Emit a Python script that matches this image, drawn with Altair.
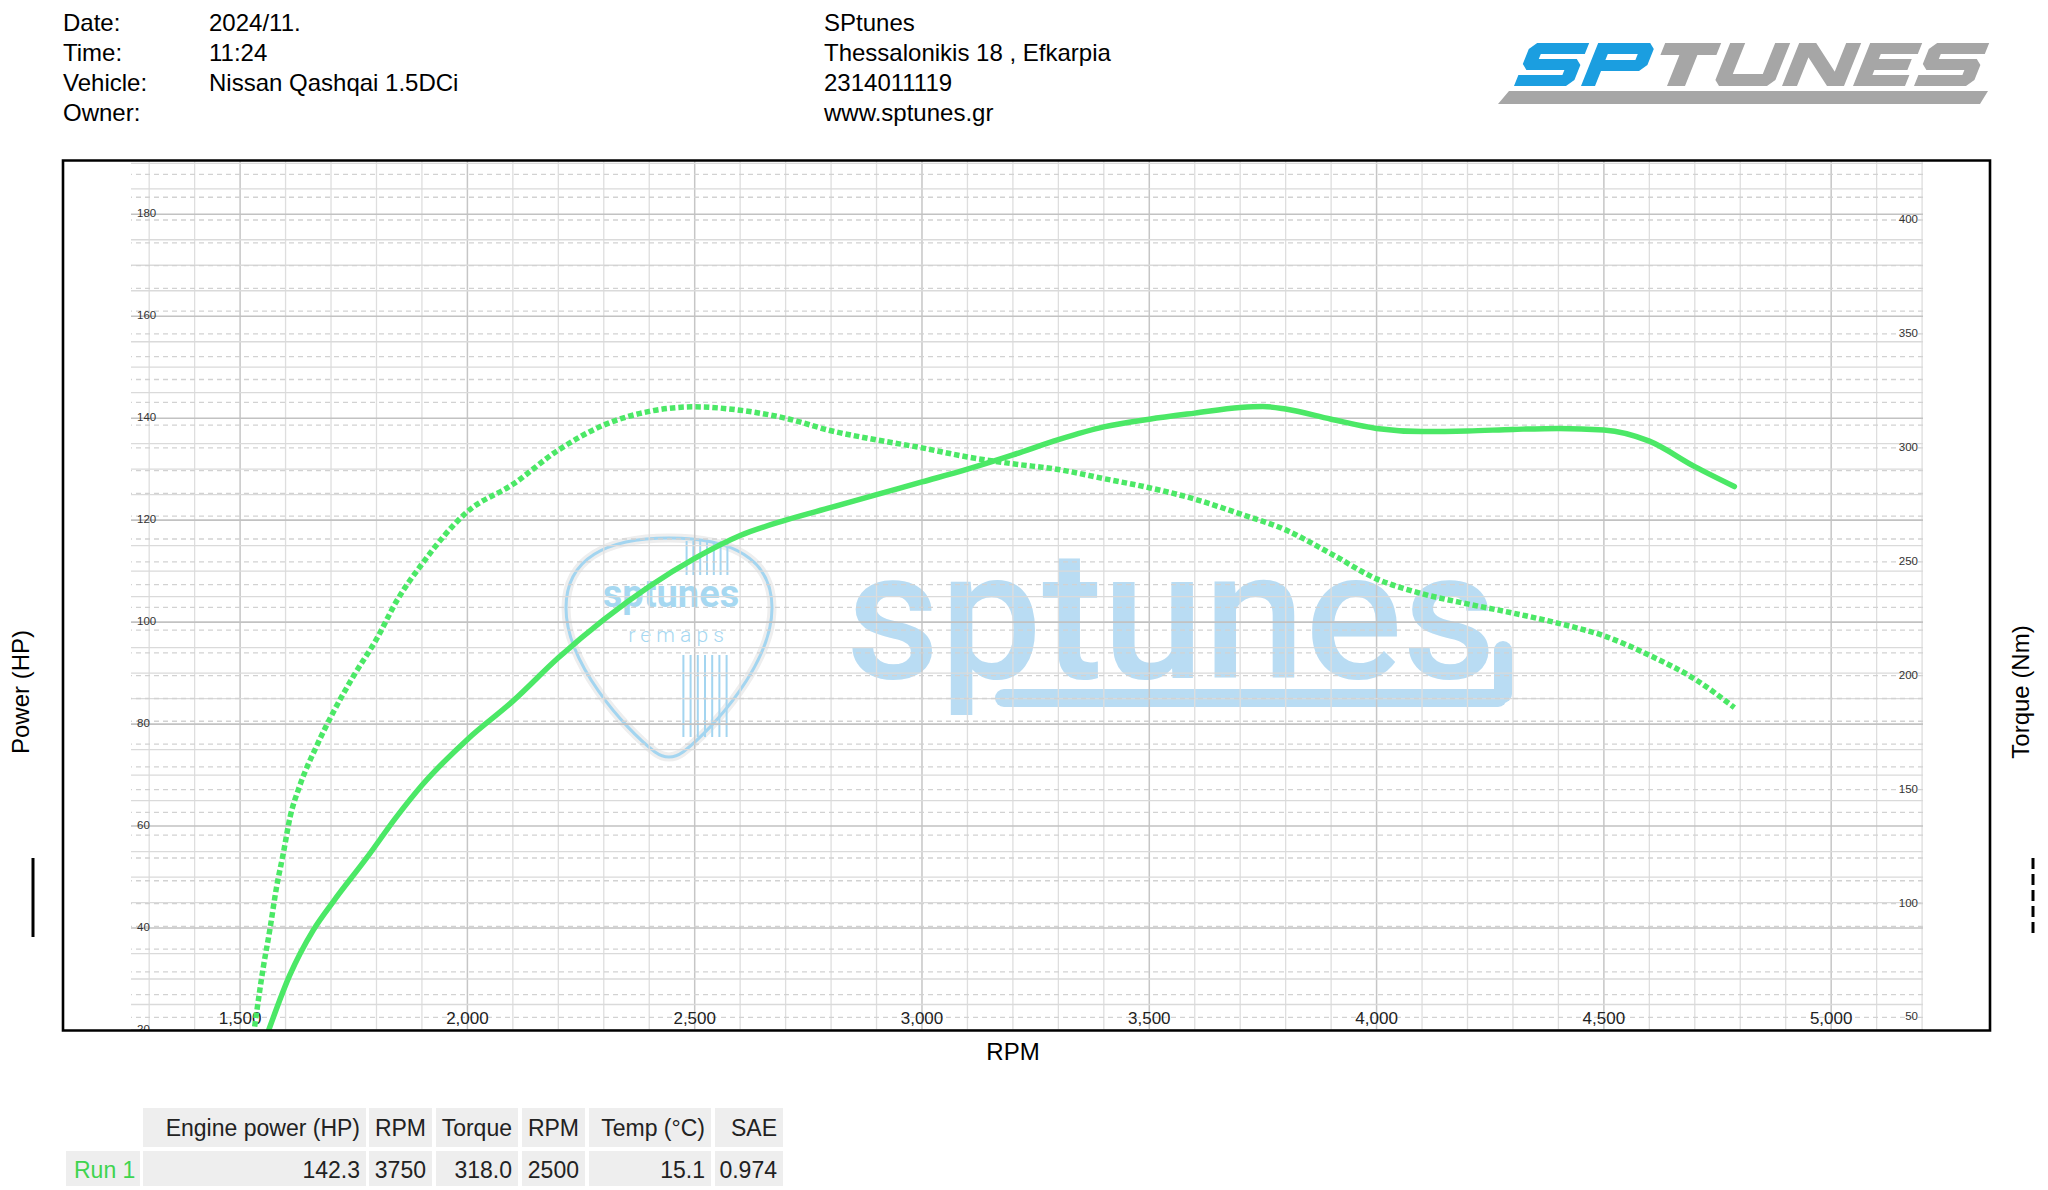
import altair as alt
import pandas as pd

# ---------------- data ----------------
POWER_RPM = [1563, 1609, 1661, 1705, 1778, 1844, 1900, 2000, 2100, 2200, 2300, 2400,
             2500, 2600, 2700, 2800, 2900, 3000, 3100, 3200, 3300, 3400, 3500, 3600,
             3700, 3750, 3800, 3900, 4000, 4100, 4200, 4300, 4400, 4500, 4600, 4700, 4787]
POWER_HP = [20.0, 30.7, 39.6, 45.2, 53.7, 61.8, 68.0, 77.0, 84.5, 93.0, 100.5, 107.0,
            112.5, 117.0, 120.0, 122.5, 125.0, 127.5, 130.0, 132.8, 135.8, 138.3, 139.8, 141.0,
            142.1, 142.3, 141.8, 139.8, 138.0, 137.4, 137.5, 137.8, 138.0, 137.7, 135.5, 130.5, 126.6]

TORQUE_RPM = [1532, 1551, 1565, 1580, 1595, 1610, 1630, 1668, 1705, 1750, 1800, 1845, 1900,
              2000, 2100, 2200, 2300, 2400, 2500, 2600, 2700, 2800, 2900, 3000, 3100, 3200,
              3300, 3400, 3500, 3600, 3700, 3800, 3900, 4000, 4100, 4200, 4300, 4400, 4500,
              4600, 4700, 4787]
TORQUE_NM = [46, 72, 88, 107, 122, 138, 151, 169, 184, 200, 216, 233, 249,
             272, 284, 299, 310, 316, 318, 316.5, 313, 307.5, 303.5, 300, 296, 293,
             290.5, 286.5, 282.5, 277.5, 271, 264, 253.5, 242.5, 236, 231.5, 227.5, 223, 217.5,
             209, 198.5, 186]

RPM_TICKS = [1500, 2000, 2500, 3000, 3500, 4000, 4500, 5000]
HP_TICKS = [20, 40, 60, 80, 100, 120, 140, 160, 180]
NM_TICKS = [50, 100, 150, 200, 250, 300, 350, 400]

HEADER_KEYS = ["Date:", "Time:", "Vehicle:", "Owner:"]
HEADER_VALUES = ["2024/11.", "11:24", "Nissan Qashqai 1.5DCi", ""]
SHOP_LINES = ["SPtunes", "Thessalonikis 18 , Efkarpia", "2314011119", "www.sptunes.gr"]

TABLE_COLUMNS = ["Engine power (HP)", "RPM", "Torque", "RPM", "Temp (°C)", "SAE"]
TABLE_VALUES = ["142.3", "3750", "318.0", "2500", "15.1", "0.974"]
RUN_NAME = "Run 1"

X_TITLE = "RPM"
LEFT_TITLE = "Power (HP)"
RIGHT_TITLE = "Torque (Nm)"
WATERMARK = "sptunes"
BADGE_TEXT = "sptunes"
BADGE_SUB = "r  e  m  a  p  s"
LOGO = "SPTUNES"

# ---------------- layout (image pixels) ----------------
X0, Y0 = 131, 161          # top-left of plot area in the page
W, H = 1792, 869
TOTAL_W, TOTAL_H = 2030, 1178
PAD_L, PAD_T = X0 - 8, Y0 - 8


def vx(x):
    return x - X0


def vy(y):
    return y - Y0


GREEN = "#4be866"
FONT = "Liberation Sans"
WM_BLUE = "#b9dcf3"
BADGE_BLUE = "#a6d8f1"

rpm_scale = alt.Scale(domain=[1260, 5202], nice=False, zero=False)
hp_scale = alt.Scale(domain=[20, 190.45], nice=False, zero=False)
nm_scale = alt.Scale(domain=[44.5, 425.9], nice=False, zero=False)

one = pd.DataFrame({"k": [0]})


def label(text, x, y, size, font=FONT, **kw):
    return alt.Chart(one).mark_text(text=text, font=font, fontSize=size, **kw).encode(
        x=alt.value(vx(x)), y=alt.value(vy(y)))


def pathmark(path, x, y, **kw):
    return alt.Chart(one).mark_point(shape=path, size=4, opacity=1, **kw).encode(
        x=alt.value(vx(x)), y=alt.value(vy(y)))


layers = []

# ---------------- watermark ----------------
PICK_PATH = ("M 0 -110 C 62 -110 103 -90 103 -40 C 103 15 45 80 14 104 "
             "Q 0 114 -14 104 C -45 80 -103 15 -103 -40 C -103 -90 -62 -110 0 -110 Z")
layers.append(pathmark(PICK_PATH, 669, 648, filled=False, stroke="#eeeeee", strokeWidth=9))
layers.append(pathmark(PICK_PATH, 669, 648, filled=False, stroke="#a3d5f0", strokeWidth=3))


def stripes(n, dx, half_h):
    parts = []
    for i in range(n):
        xx = (i - (n - 1) / 2) * dx
        parts.append(f"M {xx:.1f} {-half_h} L {xx:.1f} {half_h}")
    return " ".join(parts)


layers.append(pathmark(stripes(7, 6.8, 17), 707, 558, filled=False, stroke="#a3d5f0", strokeWidth=2))
layers.append(pathmark(stripes(7, 7.2, 41), 705, 696, filled=False, stroke="#a3d5f0", strokeWidth=2))
layers.append(label(BADGE_TEXT, 671, 607, 38, font="Roboto", fontWeight="bold", color=BADGE_BLUE,
                    align="center", baseline="alphabetic"))
layers.append(label(BADGE_SUB, 676, 642, 21, font="Roboto", fontWeight=300, color=BADGE_BLUE,
                    align="center", baseline="alphabetic"))

layers.append(label(WATERMARK, 846, 678, 182, font="Roboto", fontWeight=500, color=WM_BLUE,
                    align="left", baseline="alphabetic"))
layers.append(alt.Chart(one).mark_rule(color=WM_BLUE, strokeWidth=18, strokeCap="round").encode(
    x=alt.value(vx(1004)), x2=alt.value(vx(1498)), y=alt.value(vy(698))))
layers.append(alt.Chart(one).mark_rule(color=WM_BLUE, strokeWidth=18, strokeCap="round").encode(
    x=alt.value(vx(1503)), y=alt.value(vy(650)), y2=alt.value(vy(694))))

# ---------------- grid ----------------
rpm_minor = pd.DataFrame({"rpm": [r for r in range(1300, 5201, 100) if r % 500]})
rpm_major = pd.DataFrame({"rpm": [r for r in range(1300, 5201, 100) if r % 500 == 0]})
hp_minor = pd.DataFrame({"hp": [h for h in range(20, 191, 5) if h % 20]})
hp_major = pd.DataFrame({"hp": [h for h in range(20, 191, 5) if h % 20 == 0]})
nm_grid = pd.DataFrame({"nm": list(range(50, 421, 10))})

layers.append(alt.Chart(rpm_minor).mark_rule(color="#dedede", strokeWidth=1.3).encode(
    x=alt.X("rpm:Q", scale=rpm_scale, axis=None)))
layers.append(alt.Chart(rpm_major).mark_rule(color="#c6c6c6", strokeWidth=1.5).encode(
    x=alt.X("rpm:Q", scale=rpm_scale, axis=None)))
layers.append(alt.Chart(hp_minor).mark_rule(color="#dadada", strokeWidth=1.3).encode(
    y=alt.Y("hp:Q", scale=hp_scale, axis=None)))
layers.append(alt.Chart(hp_major).mark_rule(color="#c2c2c2", strokeWidth=1.6).encode(
    y=alt.Y("hp:Q", scale=hp_scale, axis=None)))
layers.append(alt.Chart(nm_grid).mark_rule(color="#d2d2d2", strokeWidth=1.3, strokeDash=[5, 4]).encode(
    y=alt.Y("nm:Q", scale=nm_scale, axis=None)))

# ---------------- tick labels ----------------
layers.append(alt.Chart(pd.DataFrame({"rpm": RPM_TICKS})).mark_text(
    font=FONT, fontSize=17, color="#222222", baseline="middle", align="center").encode(
    x=alt.X("rpm:Q", scale=rpm_scale, axis=None), y=alt.value(vy(1019)),
    text=alt.Text("rpm:Q", format=",")))
layers.append(alt.Chart(pd.DataFrame({"hp": HP_TICKS})).mark_text(
    font=FONT, fontSize=11.5, color="#333333", baseline="middle", align="left", clip=True).encode(
    x=alt.value(vx(137)), y=alt.Y("hp:Q", scale=hp_scale, axis=None), text=alt.Text("hp:Q", format="d")))
layers.append(alt.Chart(pd.DataFrame({"nm": NM_TICKS})).mark_text(
    font=FONT, fontSize=11.5, color="#333333", baseline="middle", align="right", clip=True).encode(
    x=alt.value(vx(1918)), y=alt.Y("nm:Q", scale=nm_scale, axis=None), text=alt.Text("nm:Q", format="d")))

# ---------------- curves ----------------
layers.append(alt.Chart(pd.DataFrame({"rpm": TORQUE_RPM, "nm": TORQUE_NM})).mark_line(
    color=GREEN, strokeWidth=5.5, strokeDash=[5.5, 3], interpolate="monotone", clip=True).encode(
    x=alt.X("rpm:Q", scale=rpm_scale, axis=None), y=alt.Y("nm:Q", scale=nm_scale, axis=None)))
layers.append(alt.Chart(pd.DataFrame({"rpm": POWER_RPM, "hp": POWER_HP})).mark_line(
    color=GREEN, strokeWidth=5.5, interpolate="monotone", clip=True, strokeCap="round").encode(
    x=alt.X("rpm:Q", scale=rpm_scale, axis=None), y=alt.Y("hp:Q", scale=hp_scale, axis=None)))

# ---------------- frame, titles, legend marks ----------------
layers.append(alt.Chart(one).mark_rect(fill="transparent", stroke="black", strokeWidth=2.6).encode(
    x=alt.value(vx(63)), x2=alt.value(vx(1990)), y=alt.value(vy(160.5)), y2=alt.value(vy(1030.5))))
layers.append(label(X_TITLE, 1013, 1053, 24, color="black", align="center", baseline="middle"))
layers.append(label(LEFT_TITLE, 22, 692, 24, color="black", align="center", baseline="middle", angle=270))
layers.append(label(RIGHT_TITLE, 2022, 692, 24, color="black", align="center", baseline="middle", angle=270))
layers.append(alt.Chart(one).mark_rule(color="black", strokeWidth=3).encode(
    x=alt.value(vx(33)), y=alt.value(vy(858)), y2=alt.value(vy(937))))
layers.append(alt.Chart(one).mark_rule(color="black", strokeWidth=3, strokeDash=[11, 5]).encode(
    x=alt.value(vx(2033)), y=alt.value(vy(858)), y2=alt.value(vy(937))))

# ---------------- header ----------------
layers.append(label(HEADER_KEYS, 63, 30.8, 24, color="black", align="left", baseline="alphabetic", lineHeight=30))
layers.append(label(HEADER_VALUES, 209, 30.8, 24, color="black", align="left", baseline="alphabetic", lineHeight=30))
layers.append(label(SHOP_LINES, 824, 30.8, 24, color="black", align="left", baseline="alphabetic", lineHeight=30))

# ---------------- logo (drawn letter shapes) ----------------
K = 0.4
LH = 43


def letter_polys(ch, w):
    if ch == "S":
        return [[(6, 0), (w, 0), (w, 11), (14, 11), (14, 16), (w - 6, 16), (w, 22), (w, 37),
                 (w - 6, 43), (0, 43), (0, 32), (w - 14, 32), (w - 14, 27), (6, 27), (0, 21), (0, 6)]]
    if ch == "P":
        return [[(0, 0), (w - 6, 0), (w, 6), (w, 22), (w - 6, 28), (14, 28), (14, 43), (0, 43)],
                [(14, 11), (14, 17), (w - 14, 17), (w - 14, 11)]]
    if ch == "T":
        c = w / 2
        return [[(0, 0), (w, 0), (w, 12), (c + 9, 12), (c + 9, 43), (c - 9, 43), (c - 9, 12), (0, 12)]]
    if ch == "U":
        return [[(0, 0), (15, 0), (15, 31), (w - 15, 31), (w - 15, 0), (w, 0), (w, 37), (w - 6, 43),
                 (6, 43), (0, 37)]]
    if ch == "N":
        return [[(0, 0), (15, 0), (15, 43), (0, 43)],
                [(w - 15, 0), (w, 0), (w, 43), (w - 15, 43)],
                [(0, 0), (17, 0), (w, 43), (w - 17, 43)]]
    if ch == "E":
        return [[(0, 0), (w, 0), (w, 11), (15, 11), (15, 16), (w - 4, 16), (w - 4, 27), (15, 27),
                 (15, 32), (w, 32), (w, 43), (0, 43)]]
    return []


def poly_path(pts, ox):
    coords = [f"{ox + x + (LH - y) * K:.1f} {y:.1f}" for x, y in pts]
    return "M " + " L ".join(coords) + " Z"


widths = {"S": 58, "P": 58, "T": 56, "U": 60, "N": 62, "E": 52}
blue_parts, gray_parts = [], []
ox = 0
for i, ch in enumerate(LOGO):
    w = widths[ch]
    for pts in letter_polys(ch, w):
        (blue_parts if i < 2 else gray_parts).append(poly_path(pts, ox))
    ox += w + 9
gray_parts.append("M -5 48 L 474 48 L 466 61 L -16 61 Z")
layers.append(pathmark(" ".join(blue_parts), 1514, 43, filled=True, fill="#1b9ee0", strokeWidth=0))
layers.append(pathmark(" ".join(gray_parts), 1514, 43, filled=True, fill="#a6a6a6", strokeWidth=0))

# ---------------- result table ----------------
CELL_X = [(143, 366), (369, 432), (436, 518), (522, 585), (589, 711), (715, 783)]
ROW_Y = [(1108, 1147), (1151, 1189)]
RUN_CELL = (66, 140)
cells = []
for r, texts in enumerate([TABLE_COLUMNS, TABLE_VALUES]):
    for (xa, xb), t in zip(CELL_X, texts):
        ya, yb = ROW_Y[r]
        cells.append({"x0": vx(xa), "x1": vx(xb), "y0": vy(ya), "y1": vy(yb),
                      "tx": vx(xb - 6), "ty": vy((ya + yb) / 2 + 8), "text": t})
cells.append({"x0": vx(RUN_CELL[0]), "x1": vx(RUN_CELL[1]), "y0": vy(ROW_Y[1][0]), "y1": vy(ROW_Y[1][1]),
              "tx": vx(RUN_CELL[1] - 6), "ty": vy(sum(ROW_Y[1]) / 2 + 8), "text": ""})
cells_df = pd.DataFrame(cells)
layers.append(alt.Chart(cells_df).mark_rect(fill="#eeeeee").encode(
    x=alt.X("x0:Q", scale=None, axis=None), x2="x1:Q",
    y=alt.Y("y0:Q", scale=None, axis=None), y2="y1:Q"))
layers.append(alt.Chart(cells_df).mark_text(font=FONT, fontSize=23, color="#222222",
                                            align="right", baseline="alphabetic").encode(
    x=alt.X("tx:Q", scale=None, axis=None), y=alt.Y("ty:Q", scale=None, axis=None), text="text:N"))
layers.append(label(RUN_NAME, 74, sum(ROW_Y[1]) / 2 + 8, 23, color="#3fd44f", align="left", baseline="alphabetic"))

chart = alt.layer(*layers).resolve_scale(y="independent").properties(
    width=W, height=H,
    padding={"left": PAD_L, "top": PAD_T, "right": TOTAL_W - PAD_L - W, "bottom": TOTAL_H - PAD_T - H},
    autosize=alt.AutoSizeParams(type="none"),
    background="white",
).configure_view(stroke="transparent")

chart.save("out.html", embed_options={"renderer": "svg", "actions": False})
